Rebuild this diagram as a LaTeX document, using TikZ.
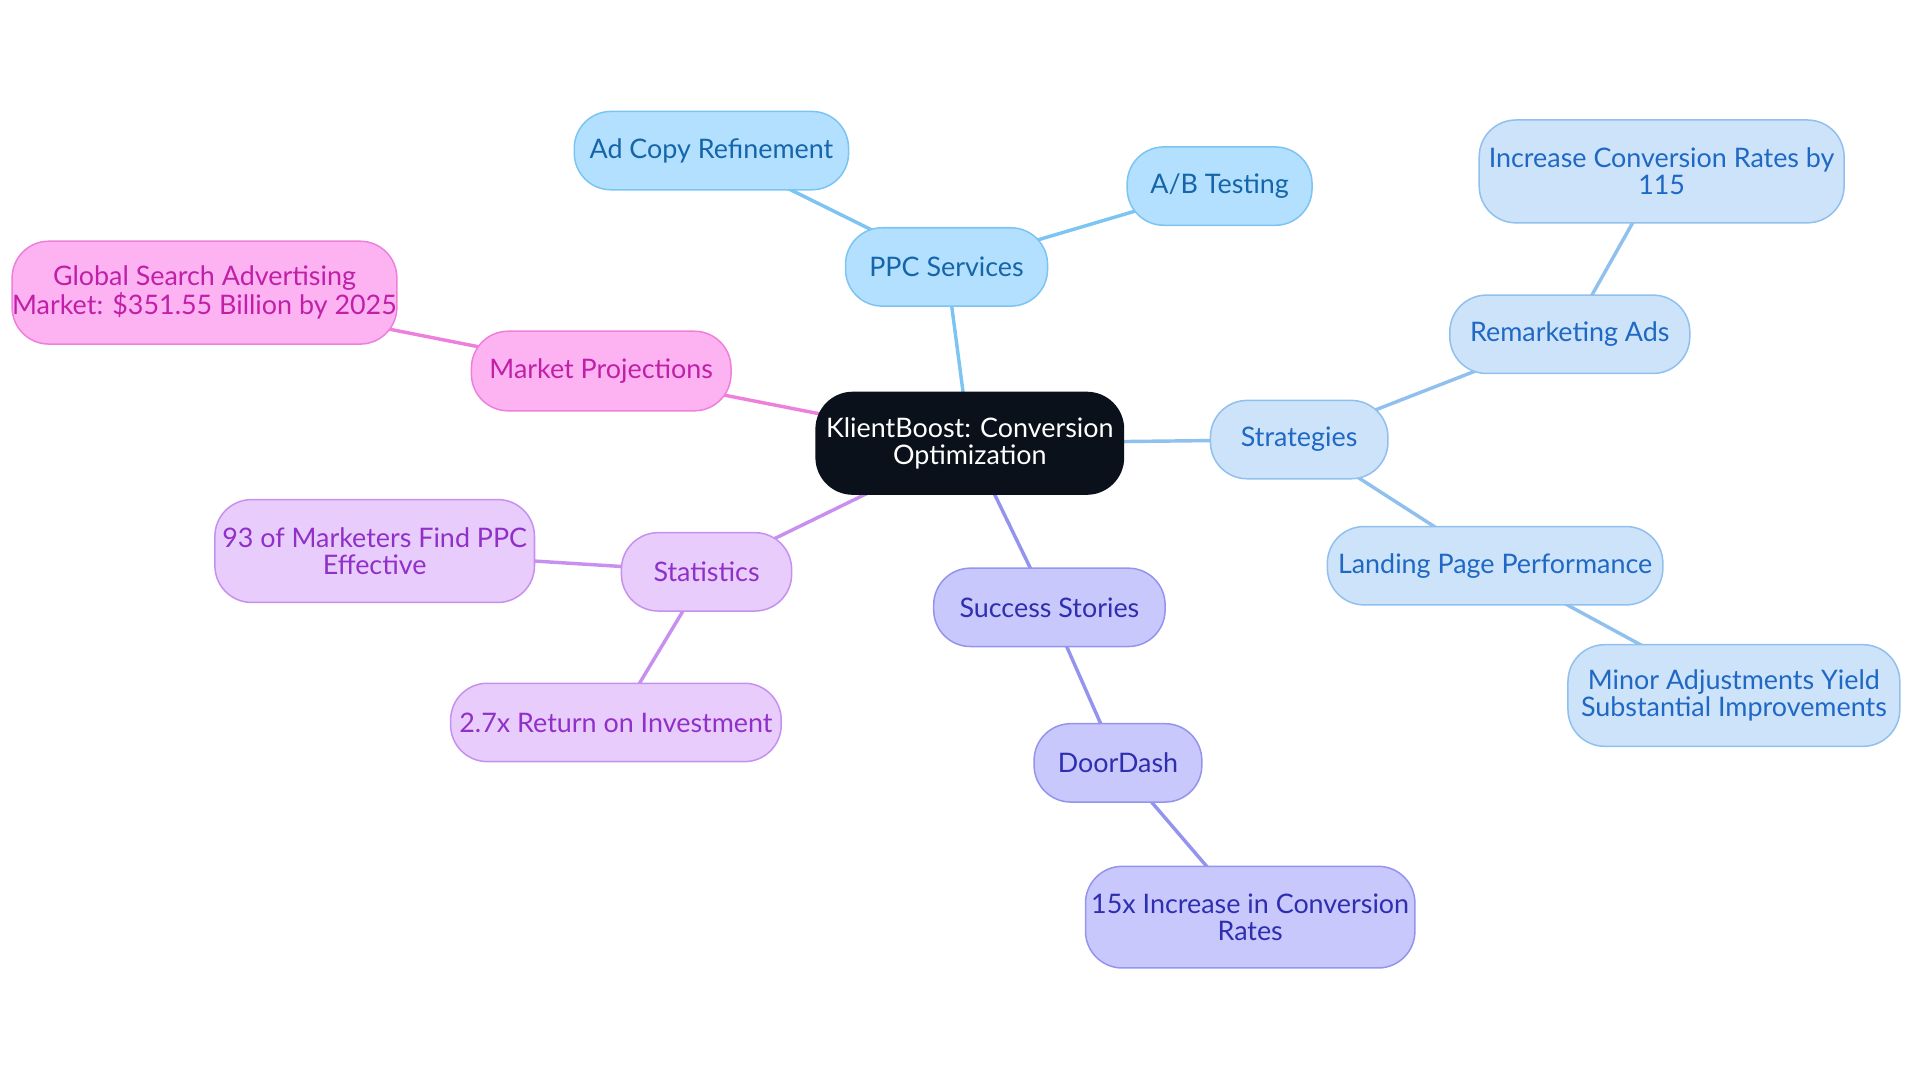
\documentclass[tikz,border=0pt]{standalone}
\usepackage{fontspec}
\setmainfont{Lato}
\usetikzlibrary{backgrounds}
\definecolor{cA}{HTML}{B3E0FF}\definecolor{bA}{HTML}{7CC4F2}\definecolor{tA}{HTML}{1565A8}
\definecolor{cB}{HTML}{CCE3FA}\definecolor{bB}{HTML}{90C0EE}\definecolor{tB}{HTML}{1F68C4}
\definecolor{cC}{HTML}{C8C8FC}\definecolor{bC}{HTML}{9494EE}\definecolor{tC}{HTML}{2E2EB0}
\definecolor{cD}{HTML}{E8CCFC}\definecolor{bD}{HTML}{C890EE}\definecolor{tD}{HTML}{9030C8}
\definecolor{cE}{HTML}{FDB3F2}\definecolor{bE}{HTML}{EE80DC}\definecolor{tE}{HTML}{C020A8}
\definecolor{dark}{HTML}{0B111A}
\tikzset{x=0.02cm,y=-0.02cm,
 bx/.style={rounded corners=0.6cm,align=center,inner sep=0pt,font=\fontsize{12.5}{12.5}\selectfont,line width=0.7pt},
 ga/.style={bx,fill=cA,draw=bA,text=tA},
 gb/.style={bx,fill=cB,draw=bB,text=tB},
 gc/.style={bx,fill=cC,draw=bC,text=tC},
 gd/.style={bx,fill=cD,draw=bD,text=tD},
 ge/.style={bx,fill=cE,draw=bE,text=tE},
 ln/.style={line width=1.6pt}}
\begin{document}
\begin{tikzpicture}
\useasboundingbox (0,0) rectangle (1568,884);
\node[bx,fill=dark,draw=dark,text=white,minimum width=251*0.02cm,minimum height=83*0.02cm] (c) at (792,362) {KlientBoost: Conversion\\Optimization};
\node[ga,minimum width=165*0.02cm,minimum height=64*0.02cm] (ppc) at (773,218) {PPC Services};
\node[ga,minimum width=224*0.02cm,minimum height=64*0.02cm] (ad) at (581,123) {Ad Copy Refinement};
\node[ga,minimum width=151*0.02cm,minimum height=64*0.02cm] (ab) at (996,152) {A/B Testing};
\node[gb,minimum width=145*0.02cm,minimum height=64*0.02cm] (st) at (1061,359) {Strategies};
\node[gb,minimum width=196*0.02cm,minimum height=64*0.02cm] (rm) at (1282,273) {Remarketing Ads};
\node[gb,minimum width=298*0.02cm,minimum height=84*0.02cm] (inc) at (1357,140) {Increase Conversion Rates by\\115};
\node[gb,minimum width=274*0.02cm,minimum height=64*0.02cm] (lp) at (1221,462) {Landing Page Performance};
\node[gb,minimum width=271*0.02cm,minimum height=83*0.02cm] (mi) at (1416,568) {Minor Adjustments Yield\\Substantial Improvements};
\node[gc,minimum width=189*0.02cm,minimum height=64*0.02cm] (ss) at (857,496) {Success Stories};
\node[gc,minimum width=137*0.02cm,minimum height=64*0.02cm] (dd) at (913,623) {DoorDash};
\node[gc,minimum width=269*0.02cm,minimum height=83*0.02cm] (fx) at (1021,749) {15x Increase in Conversion\\Rates};
\node[gd,minimum width=139*0.02cm,minimum height=64*0.02cm] (sta) at (577,467) {Statistics};
\node[gd,minimum width=261*0.02cm,minimum height=84*0.02cm] (n93) at (306,450) {93 of Marketers Find PPC\\Effective};
\node[gd,minimum width=270*0.02cm,minimum height=64*0.02cm] (roi) at (503,590) {2.7x Return on Investment};
\node[ge,minimum width=212*0.02cm,minimum height=65*0.02cm] (mp) at (491,303) {Market Projections};
\node[ge,minimum width=304*0.02cm,minimum height=84*0.02cm] (gs) at (167,239) {Global Search Advertising\\Market: \$351.55 Billion by 2025};
\begin{scope}[on background layer]
\draw[ln,bA] (c.center)--(ppc.center) (ppc.center)--(ad.center) (ppc.center)--(ab.center);
\draw[ln,bB] (c.center)--(st.center) (st.center)--(rm.center) (rm.center)--(inc.center) (st.center)--(lp.center) (lp.center)--(mi.center);
\draw[ln,bC] (c.center)--(ss.center) (ss.center)--(dd.center) (dd.center)--(fx.center);
\draw[ln,bD] (c.center)--(sta.center) (sta.center)--(n93.center) (sta.center)--(roi.center);
\draw[ln,bE] (c.center)--(mp.center) (mp.center)--(gs.center);
\end{scope}
\end{tikzpicture}
\end{document}
